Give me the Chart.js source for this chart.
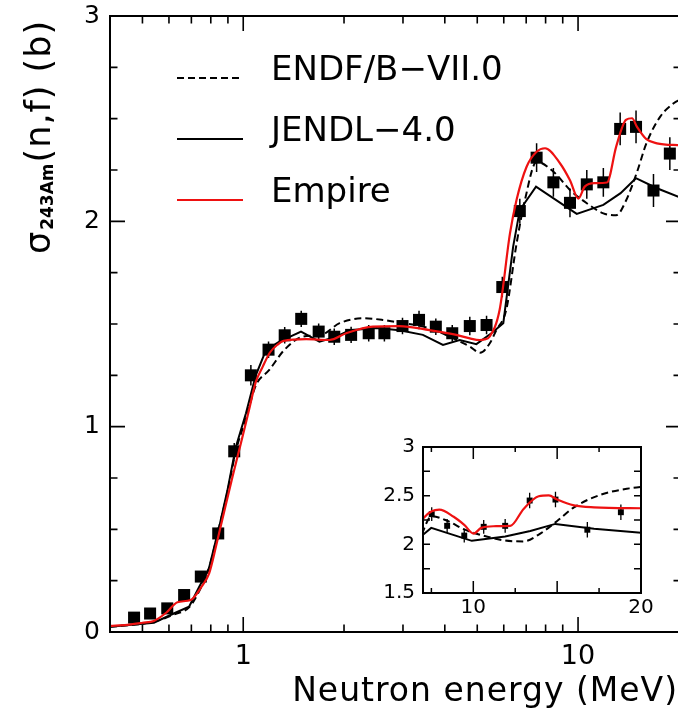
<!DOCTYPE html>
<html><head><meta charset="utf-8">
<script src="https://cdn.jsdelivr.net/npm/chart.js@4.4.1/dist/chart.umd.min.js"></script>
<style>
html,body{margin:0;padding:0;overflow:hidden;background:#fff;}
#wrap{position:relative;width:678px;height:714px;overflow:hidden;background:#fff;}
#main{position:absolute;left:0;top:0;}
#inset{position:absolute;left:370px;top:430px;}
</style></head><body>
<div id="wrap">
<canvas id="main" width="681" height="714"></canvas>
<canvas id="inset" width="290" height="195"></canvas>
</div>
<script>
// ---------- data ----------
const expEnergy = [0.472,0.527,0.593,0.666,0.747,0.842,0.94,1.054,1.19,1.33,1.49,1.68,1.87,2.10,2.37,2.64,2.99,3.35,3.76,4.21,4.75,5.33,5.94,6.70,7.52,8.44,9.46,10.62,11.9,13.36,14.9,16.8,18.8];
const expSigma  = [0.07,0.09,0.115,0.18,0.27,0.48,0.88,1.25,1.375,1.445,1.525,1.463,1.438,1.447,1.455,1.455,1.49,1.52,1.487,1.455,1.49,1.495,1.68,2.05,2.31,2.19,2.09,2.18,2.19,2.45,2.46,2.15,2.33];
const expError  = [0.01,0.01,0.01,0.015,0.02,0.03,0.04,0.05,0.04,0.04,0.04,0.04,0.04,0.04,0.04,0.04,0.04,0.045,0.04,0.04,0.045,0.045,0.05,0.06,0.07,0.07,0.07,0.07,0.07,0.08,0.08,0.08,0.08];

const endfEnergy = [0.4,0.541,0.62,0.689,0.739,0.79,0.85,0.897,0.95,1.019,1.09,1.196,1.327,1.505,1.71,1.94,2.28,2.61,2.8,3.6,4.14,4.75,5.1,5.45,5.7,6.1,6.55,6.94,7.52,8.44,9.46,10.62,11.9,13.0,13.9,15.0,16.0,17.6,19.3,20.3];
const endfSigma  = [0.025,0.05,0.085,0.12,0.2,0.31,0.52,0.68,0.88,1.04,1.2,1.276,1.374,1.438,1.447,1.504,1.528,1.52,1.512,1.479,1.438,1.39,1.36,1.406,1.47,1.568,1.89,2.104,2.29,2.242,2.153,2.088,2.039,2.03,2.10,2.24,2.38,2.51,2.575,2.595];

const jendlEnergy = [0.4,0.541,0.62,0.689,0.739,0.79,0.85,0.897,0.95,1.019,1.09,1.17,1.282,1.488,1.689,1.895,2.08,2.5,2.93,3.44,3.95,4.43,4.97,5.51,5.98,6.4,6.70,7.49,9.91,11.9,13.4,14.89,17.2,20.3];
const jendlSigma  = [0.025,0.045,0.09,0.123,0.22,0.31,0.52,0.69,0.9,1.065,1.25,1.374,1.414,1.463,1.414,1.438,1.47,1.48,1.47,1.447,1.398,1.422,1.402,1.455,1.504,1.877,2.055,2.169,2.036,2.08,2.137,2.21,2.161,2.115];

const empireEnergy = [0.4,0.45,0.5,0.541,0.59,0.636,0.697,0.75,0.791,0.83,0.877,0.93,0.984,1.04,1.091,1.142,1.2,1.267,1.32,1.54,1.81,2.03,2.44,2.93,3.6,4.33,4.75,5.09,5.25,5.44,5.83,6.26,6.55,7.02,7.52,7.97,8.83,9.46,10.02,10.47,11.2,12.2,13.0,13.9,14.5,15.0,16.0,17.2,20.3];
const empireSigma  = [0.03,0.035,0.045,0.054,0.095,0.145,0.156,0.22,0.286,0.42,0.586,0.76,0.919,1.08,1.219,1.29,1.36,1.40,1.418,1.426,1.422,1.455,1.487,1.49,1.47,1.447,1.43,1.422,1.425,1.438,1.568,1.94,2.104,2.266,2.339,2.356,2.283,2.2,2.111,2.169,2.186,2.189,2.364,2.494,2.502,2.46,2.40,2.38,2.37];

const legendLabels = ['ENDF/B\u2212VII.0', 'JENDL\u22124.0', 'Empire'];
const xAxisTitle = 'Neutron energy (MeV)';

// tick values
const mainXLabels = [1, 10];
const mainXMinor  = [0.5,0.6,0.7,0.8,0.9,2,3,4,5,6,7,8,9];
const mainYLabels = [0, 1, 2, 3];
const mainYMinor  = [0.25,0.5,0.75,1.25,1.5,1.75,2.25,2.5,2.75];
const insetXLabels = [10, 20];
const insetXMajor  = [10, 15];
const insetXMinor  = [7.5, 12.5, 17.5];
const insetYLabels = [1.5, 2, 2.5, 3];
const insetYTicks  = [1.75, 2, 2.25, 2.5, 2.75];

// ---------- helpers ----------
const RED = '#ee1111';
const FONT = "'DejaVu Sans'";
const pts = (xs, ys) => xs.map((x, i) => ({x: x, y: ys[i]}));

const frameTicks = {
  id: 'frameTicks',
  afterDatasetsDraw(chart, args, o) {
    const {ctx, chartArea: a} = chart;
    const xs = chart.scales.x, ys = chart.scales.y;
    ctx.save();
    ctx.strokeStyle = '#000';
    ctx.lineWidth = o.tickWidth;
    ctx.beginPath();
    const xt = (vals, len) => vals.forEach(v => {
      const p = xs.getPixelForValue(v);
      ctx.moveTo(p, a.bottom); ctx.lineTo(p, a.bottom - len);
      ctx.moveTo(p, a.top); ctx.lineTo(p, a.top + len);
    });
    const yt = (vals, len) => vals.forEach(v => {
      const p = ys.getPixelForValue(v);
      ctx.moveTo(a.left, p); ctx.lineTo(a.left + len, p);
      ctx.moveTo(a.right, p); ctx.lineTo(a.right - len, p);
    });
    xt(o.xMajor, o.xMajorLen); xt(o.xMinor, o.xMinorLen);
    yt(o.yMajor, o.yMajorLen); yt(o.yMinor, o.yMinorLen);
    ctx.stroke();
    ctx.lineWidth = o.frameWidth;
    ctx.strokeRect(a.left, a.top, a.right - a.left, a.bottom - a.top);
    ctx.restore();
  }
};

const errorBars = {
  id: 'errorBars',
  beforeDatasetsDraw(chart, args, o) {
    const {ctx, chartArea: a} = chart;
    const xs = chart.scales.x, ys = chart.scales.y;
    ctx.save();
    ctx.beginPath();
    ctx.rect(a.left, a.top, a.right - a.left, a.bottom - a.top);
    ctx.clip();
    ctx.strokeStyle = '#000';
    ctx.lineWidth = o.width;
    ctx.beginPath();
    expEnergy.forEach((e, i) => {
      const px = xs.getPixelForValue(e);
      ctx.moveTo(px, ys.getPixelForValue(expSigma[i] - expError[i]));
      ctx.lineTo(px, ys.getPixelForValue(expSigma[i] + expError[i]));
    });
    ctx.stroke();
    ctx.restore();
  }
};

const decor = {
  id: 'decor',
  afterDraw(chart) {
    const ctx = chart.ctx;
    ctx.save();
    ctx.fillStyle = '#000';
    // legend
    const styles = [{c: '#000', d: [7, 4]}, {c: '#000', d: []}, {c: RED, d: []}];
    legendLabels.forEach((lab, i) => {
      const y = 78 + i * 61;
      ctx.strokeStyle = styles[i].c;
      ctx.setLineDash(styles[i].d);
      ctx.lineWidth = 2;
      ctx.beginPath(); ctx.moveTo(177, y); ctx.lineTo(243, y); ctx.stroke();
      ctx.setLineDash([]);
      ctx.font = '34px ' + FONT;
      ctx.textAlign = 'left'; ctx.textBaseline = 'alphabetic';
      ctx.fillText(lab, 271, y + 2);
    });
    // x axis title
    ctx.font = '33px ' + FONT;
    ctx.letterSpacing = '1px';
    ctx.textAlign = 'right';
    ctx.fillText(xAxisTitle, 678, 701);
    // y axis title
    ctx.translate(50, 254);
    ctx.rotate(-Math.PI / 2);
    ctx.textAlign = 'left';
    ctx.letterSpacing = '0px';
    ctx.font = '35px ' + FONT;
    ctx.fillText('\u03c3', 0, 0);
    let w = ctx.measureText('\u03c3').width + 2;
    ctx.font = 'bold 17px ' + FONT;
    ctx.fillText('243Am', w, 3);
    w += ctx.measureText('243Am').width + 1;
    ctx.font = '35px ' + FONT;
    ctx.letterSpacing = '1px';
    ctx.fillText('(n,f) (b)', w, 0);
    ctx.restore();
  }
};

function datasets(sq) {
  return [
    {label: 'exp', data: pts(expEnergy, expSigma), showLine: false, pointStyle: 'rect',
     pointRadius: sq, pointBackgroundColor: '#000', pointBorderWidth: 0, borderWidth: 0, order: 10},
    {label: legendLabels[0], data: pts(endfEnergy, endfSigma), borderColor: '#000', borderWidth: 2,
     borderDash: [7, 4], pointRadius: 0, cubicInterpolationMode: 'monotone', fill: false, order: 3},
    {label: legendLabels[1], data: pts(jendlEnergy, jendlSigma), borderColor: '#000', borderWidth: 2,
     pointRadius: 0, tension: 0, fill: false, order: 2},
    {label: legendLabels[2], data: pts(empireEnergy, empireSigma), borderColor: RED, borderWidth: 2.2,
     pointRadius: 0, cubicInterpolationMode: 'monotone', fill: false, order: 1}
  ];
}

const noPad = s => { s.paddingLeft = 0; s.paddingRight = 0; s.paddingTop = 0; s.paddingBottom = 0; };

// ---------- main chart ----------
new Chart(document.getElementById('main'), {
  type: 'line',
  data: {datasets: datasets(8.5)},
  options: {
    responsive: false, animation: false, events: [],
    layout: {autoPadding: false, padding: {top: 16, right: 0, bottom: 0, left: 0}},
    plugins: {
      legend: {display: false}, tooltip: {enabled: false},
      frameTicks: {tickWidth: 1.6, frameWidth: 2, xMajor: mainXLabels, xMinor: mainXMinor,
        yMajor: [1, 2], yMinor: mainYMinor, xMajorLen: 15, xMinorLen: 7.5, yMajorLen: 15, yMinorLen: 7.5},
      errorBars: {width: 1.5}
    },
    scales: {
      x: {type: 'logarithmic', min: 0.4, max: 20.3,
        grid: {display: false, drawTicks: false}, border: {display: false},
        afterBuildTicks: s => { s.ticks = mainXLabels.map(v => ({value: v})); },
        afterFit: s => { s.height = 82; noPad(s); },
        ticks: {autoSkip: false, maxRotation: 0, minRotation: 0, padding: 9, color: '#000',
          font: {family: 'DejaVu Sans', size: 27}, callback: v => String(v)}},
      y: {type: 'linear', min: 0, max: 3,
        grid: {display: false, drawTicks: false}, border: {display: false},
        afterBuildTicks: s => { s.ticks = mainYLabels.map(v => ({value: v})); },
        afterFit: s => { s.width = 110; noPad(s); },
        ticks: {autoSkip: false, padding: 10, color: '#000',
          font: {family: 'DejaVu Sans', size: 25}, callback: v => String(v)}}
    }
  },
  plugins: [errorBars, frameTicks, decor]
});

// ---------- inset chart ----------
new Chart(document.getElementById('inset'), {
  type: 'line',
  data: {datasets: datasets(4.2)},
  options: {
    responsive: false, animation: false, events: [],
    layout: {autoPadding: false, padding: {top: 17, right: 19, bottom: 0, left: 0}},
    plugins: {
      legend: {display: false}, tooltip: {enabled: false},
      frameTicks: {tickWidth: 1.5, frameWidth: 2, xMajor: insetXMajor, xMinor: insetXMinor,
        yMajor: insetYTicks, yMinor: [], xMajorLen: 12, xMinorLen: 5, yMajorLen: 7, yMinorLen: 7},
      errorBars: {width: 1.3}
    },
    scales: {
      x: {type: 'linear', min: 7, max: 20,
        grid: {display: false, drawTicks: false}, border: {display: false},
        afterBuildTicks: s => { s.ticks = insetXLabels.map(v => ({value: v})); },
        afterFit: s => { s.height = 32; noPad(s); },
        ticks: {autoSkip: false, maxRotation: 0, minRotation: 0, padding: 3, color: '#000',
          font: {family: 'DejaVu Sans', size: 20}, callback: v => String(v)}},
      y: {type: 'linear', min: 1.5, max: 3,
        grid: {display: false, drawTicks: false}, border: {display: false},
        afterBuildTicks: s => { s.ticks = insetYLabels.map(v => ({value: v})); },
        afterFit: s => { s.width = 53; noPad(s); },
        ticks: {autoSkip: false, padding: 8, color: '#000',
          font: {family: 'DejaVu Sans', size: 20}, callback: v => String(v)}}
    }
  },
  plugins: [errorBars, frameTicks]
});
</script>
</body></html>
